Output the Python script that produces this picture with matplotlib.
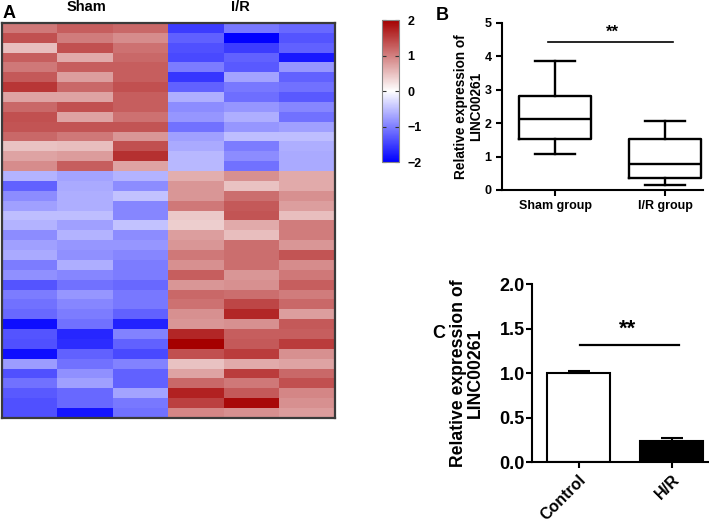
import numpy as np
import matplotlib
matplotlib.use("Agg")
import matplotlib.pyplot as plt
from matplotlib.colors import LinearSegmentedColormap

plt.rcParams['font.family'] = ['Liberation Sans', 'DejaVu Sans']
plt.rcParams['font.weight'] = 'bold'

# ---------------- data ----------------
heat_groups = ["Sham", "I/R"]
sham_values = [
    [1.06, 1.25, 1.18], [1.37, 1.02, 0.90], [0.51, 1.37, 1.10], [1.25, 0.67, 1.18],
    [1.06, 1.25, 1.25], [1.29, 0.75, 1.25], [1.57, 1.18, 1.37], [0.71, 0.71, 1.25],
    [1.18, 1.37, 1.25], [1.37, 0.71, 1.10], [1.33, 1.33, 1.33], [1.18, 1.06, 0.82],
    [0.47, 0.51, 1.37], [0.71, 0.78, 1.61], [0.90, 1.25, 0.71],
    [-0.59, -0.71, -0.59], [-1.22, -0.67, -0.90], [-0.90, -0.63, -0.47], [-0.75, -0.63, -0.94],
    [-0.51, -0.51, -0.94], [-0.59, -0.75, -0.47], [-0.90, -0.59, -0.90], [-0.75, -0.82, -0.82],
    [-0.67, -0.86, -0.94], [-1.02, -0.63, -1.02], [-0.86, -0.94, -1.02], [-1.33, -1.10, -1.18],
    [-1.02, -0.82, -1.06], [-1.10, -0.94, -1.06], [-1.18, -1.02, -1.22], [-1.88, -1.10, -1.73],
    [-1.33, -1.69, -0.98], [-1.37, -1.65, -1.22], [-1.88, -1.22, -1.41], [-0.78, -1.10, -0.98],
    [-1.37, -0.86, -1.22], [-1.10, -0.75, -1.22], [-1.29, -1.18, -0.71], [-1.37, -1.18, -1.06],
    [-1.37, -1.84, -1.10],
]
ir_values = [
    [-1.53, -1.06, -1.18], [-1.25, -2.00, -1.33], [-1.37, -1.53, -1.22], [-1.41, -1.22, -1.80],
    [-1.02, -1.29, -0.82], [-1.57, -0.71, -1.22], [-1.22, -1.06, -1.10], [-0.63, -1.14, -1.29],
    [-0.90, -0.82, -0.94], [-0.82, -0.63, -1.10], [-1.10, -0.82, -0.75], [-0.75, -0.51, -0.51],
    [-0.67, -1.02, -0.63], [-0.55, -0.90, -0.67], [-0.55, -1.10, -0.67],
    [0.63, 0.86, 0.67], [0.82, 0.47, 0.67], [0.82, 1.14, 0.86], [1.06, 1.29, 0.75],
    [0.43, 1.33, 0.51], [0.39, 0.67, 1.02], [0.75, 0.51, 1.02], [0.82, 1.14, 0.82],
    [1.06, 1.14, 1.33], [0.86, 1.14, 0.90], [1.25, 0.82, 1.06], [0.82, 0.86, 1.25],
    [1.18, 1.14, 1.02], [1.10, 1.45, 1.18], [0.86, 1.69, 0.75], [0.82, 0.86, 1.29],
    [1.69, 1.25, 1.25], [2.00, 1.29, 1.53], [1.37, 1.53, 0.86], [0.47, 0.67, 0.71],
    [0.71, 1.53, 1.18], [1.18, 1.06, 1.37], [1.73, 1.29, 0.94], [1.49, 1.92, 0.86],
    [0.94, 0.86, 0.78],
]
cbar_ticks = [-2, -1, 0, 1, 2]

box_labels = ["Sham group", "I/R group"]
box_whislo = [1.08, 0.15]
box_q1 = [1.53, 0.37]
box_med = [2.12, 0.78]
box_q3 = [2.82, 1.51]
box_whishi = [3.86, 2.06]
box_sig_y = 4.42

bar_labels = ["Control", "H/R"]
bar_values = [1.0, 0.24]
bar_errors = [0.03, 0.03]
bar_colors = ["white", "black"]
bar_sig_y = 1.32

# ---------------- figure ----------------
W, H = 709, 526
fig = plt.figure(figsize=(W / 100, H / 100), dpi=100)

def fx(px):
    return px / W

def fy(py):
    return 1 - py / H

# Panel A heatmap
cmap = LinearSegmentedColormap.from_list("bwr_custom", ["#0000FF", "#FFFFFF", "#A50000"])
data = np.hstack([np.array(sham_values), np.array(ir_values)])
axA = fig.add_axes([fx(2), fy(418), fx(333), 395 / H])
im = axA.imshow(data, cmap=cmap, vmin=-2, vmax=2, aspect='auto', interpolation='nearest')
axA.set_xticks([])
axA.set_yticks([])
for s in axA.spines.values():
    s.set_color('#3a3a3a')
    s.set_linewidth(1.6)
fig.text(fx(86), fy(7), heat_groups[0], ha='center', va='center', fontsize=10.5, fontweight='bold')
fig.text(fx(240), fy(7), heat_groups[1], ha='center', va='center', fontsize=10.5, fontweight='bold')

# colorbar
cax = fig.add_axes([fx(382), fy(162), fx(17), 142 / H])
cb = fig.colorbar(im, cax=cax, ticks=cbar_ticks)
cb.ax.set_yticklabels(["\u22122", "\u22121", "0", "1", "2"])
cb.ax.tick_params(direction='in', length=3, width=0.8, color='#333333', labelsize=9, pad=6,
                  left=True, right=True)
cb.outline.set_edgecolor('#888888')
cb.outline.set_linewidth(0.8)
for t in cb.ax.get_yticklabels():
    t.set_fontweight('bold')

# Panel B boxplot
axB = fig.add_axes([fx(502), fy(190), fx(201), 167.3 / H])
stats = []
for i in range(len(box_labels)):
    stats.append(dict(whislo=box_whislo[i], q1=box_q1[i], med=box_med[i],
                      q3=box_q3[i], whishi=box_whishi[i], fliers=[], label=box_labels[i]))
lw = 1.7
axB.bxp(stats, positions=[0, 1], widths=0.66, capwidths=0.37, showfliers=False,
        boxprops=dict(color='black', linewidth=lw),
        whiskerprops=dict(color='black', linewidth=lw),
        capprops=dict(color='black', linewidth=lw),
        medianprops=dict(color='black', linewidth=lw))
axB.set_xlim(-0.482, 1.345)
axB.set_ylim(0, 5)
axB.set_yticks([0, 1, 2, 3, 4, 5])
axB.spines['top'].set_visible(False)
axB.spines['right'].set_visible(False)
axB.spines['left'].set_linewidth(1.5)
axB.spines['bottom'].set_linewidth(1.5)
axB.tick_params(width=1.5, length=4, labelsize=9)
for t in axB.get_xticklabels() + axB.get_yticklabels():
    t.set_fontweight('bold')
axB.set_ylabel("Relative expression of\nLINC00261", fontsize=9.8, fontweight='bold',
               linespacing=1.1)
axB.yaxis.set_label_coords(-0.095, 0.5)
axB.plot([-0.06, 1.07], [box_sig_y, box_sig_y], color='black', linewidth=1.2, clip_on=False)
axB.text(0.52, box_sig_y + 0.08, "**", ha='center', va='bottom', fontsize=12, fontweight='bold')

# Panel C bar chart
axC = fig.add_axes([fx(531.7), fy(462.3), fx(176.3), 178 / H])
xpos = np.arange(len(bar_labels))
axC.bar(xpos, bar_values, width=0.68, color=bar_colors, edgecolor='black', linewidth=1.5,
        yerr=[[0, 0], bar_errors], capsize=8,
        error_kw=dict(ecolor='black', elinewidth=1.5, capthick=1.5))
axC.set_xlim(-0.503, 1.39)
axC.set_ylim(0, 2.0)
axC.set_yticks([0.0, 0.5, 1.0, 1.5, 2.0])
axC.set_yticklabels(["0.0", "0.5", "1.0", "1.5", "2.0"])
axC.set_xticks(xpos)
axC.set_xticklabels(bar_labels, rotation=45, ha='right', rotation_mode='anchor')
axC.spines['top'].set_visible(False)
axC.spines['right'].set_visible(False)
axC.spines['left'].set_linewidth(1.5)
axC.spines['bottom'].set_linewidth(1.5)
axC.tick_params(axis='y', width=1.5, length=4, labelsize=13, pad=1)
axC.tick_params(axis='x', width=1.5, length=4, labelsize=11.5, pad=3)
for t in axC.get_xticklabels() + axC.get_yticklabels():
    t.set_fontweight('bold')
axC.set_ylabel("Relative expression of\nLINC00261", fontsize=12.7, fontweight='bold',
               linespacing=1.0)
axC.yaxis.set_label_coords(-0.27, 0.5)
axC.plot([0.02, 1.08], [bar_sig_y, bar_sig_y], color='black', linewidth=1.6, clip_on=False)
axC.text(0.53, bar_sig_y + 0.06, "**", ha='center', va='bottom', fontsize=16, fontweight='bold')

# panel letters
fig.text(fx(3), fy(13), "A", ha='left', va='center', fontsize=13, fontweight='bold')
fig.text(fx(436), fy(16), "B", ha='left', va='center', fontsize=13, fontweight='bold')
fig.text(fx(432), fy(333), "C", ha='left', va='center', fontsize=13, fontweight='bold')

fig.savefig("out.png", dpi=100)
